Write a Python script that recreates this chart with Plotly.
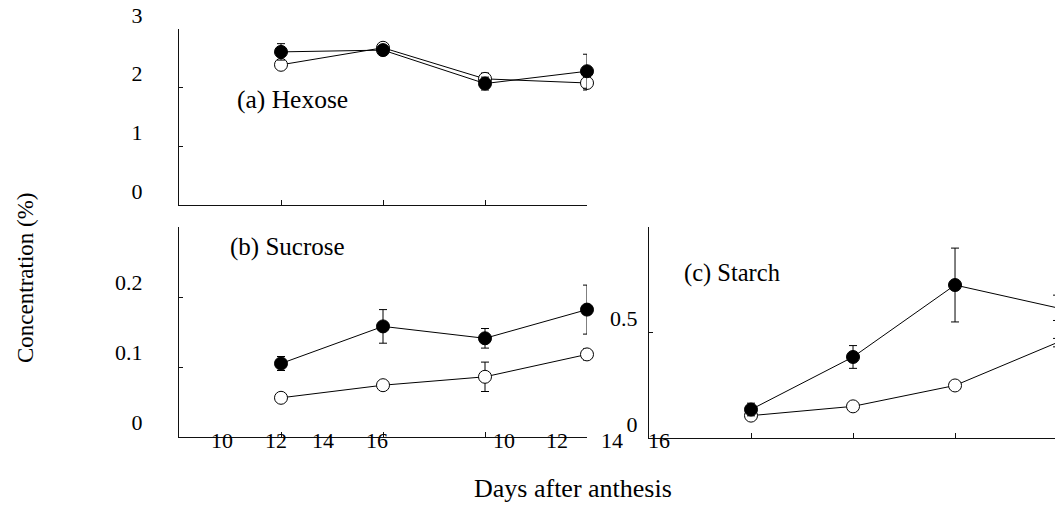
import plotly.graph_objects as go

W, H = 1055, 506

# ---- data ----
days = [10, 12, 14, 16]

hexose_filled = [2.61, 2.64, 2.07, 2.28]
hexose_filled_err = [0.14, 0.05, 0.11, 0.29]
hexose_open = [2.39, 2.68, 2.15, 2.08]
hexose_open_err = [0.03, 0.04, 0.10, 0.12]

sucrose_filled = [0.105, 0.158, 0.141, 0.182]
sucrose_filled_err = [0.010, 0.024, 0.014, 0.035]
sucrose_open = [0.056, 0.074, 0.086, 0.118]
sucrose_open_err = [0.004, 0.004, 0.021, 0.008]

starch_filled = [0.135, 0.384, 0.725, 0.617]
starch_filled_err = [0.030, 0.054, 0.175, 0.060]
starch_open = [0.106, 0.150, 0.249, 0.452]
starch_open_err = [0.010, 0.020, 0.010, 0.020]

hex_ticks = [0, 1, 2, 3]
hex_ticktext = ["0", "1", "2", "3"]
suc_ticks = [0, 0.1, 0.2, 0.3]
suc_ticktext = ["0", "0.1", "0.2", ""]
sta_ticks = [0, 0.5, 1.0]
sta_ticktext = ["0", "0.5", ""]

bottom_labels = ["10", "12", "14", "16", "10", "12", "14", "16"]
bottom_label_px = [222, 276, 323, 377, 504, 557, 612, 659]

FONT = "Liberation Serif, Times New Roman, serif"


def px(x):
    return x / W


def py(y):
    return 1 - y / H


fig = go.Figure()


def add_pair(xa, ya, y_open, e_open, y_fill, e_fill):
    fig.add_trace(go.Scatter(
        x=days, y=y_open, xaxis=xa, yaxis=ya, mode="lines+markers",
        line=dict(color="black", width=1),
        marker=dict(symbol="circle", size=13, color="white",
                    line=dict(color="black", width=1)),
        error_y=dict(type="data", array=e_open, color="black", thickness=1, width=4),
        cliponaxis=False, showlegend=False))
    fig.add_trace(go.Scatter(
        x=days, y=y_fill, xaxis=xa, yaxis=ya, mode="lines+markers",
        line=dict(color="black", width=1),
        marker=dict(symbol="circle", size=13, color="black",
                    line=dict(color="black", width=1)),
        error_y=dict(type="data", array=e_fill, color="black", thickness=1, width=4),
        cliponaxis=False, showlegend=False))


add_pair("x", "y", hexose_open, hexose_open_err, hexose_filled, hexose_filled_err)
add_pair("x2", "y2", sucrose_open, sucrose_open_err, sucrose_filled, sucrose_filled_err)
add_pair("x3", "y3", starch_open, starch_open_err, starch_filled, starch_filled_err)

xcommon = dict(showline=True, linecolor="#111", linewidth=1, ticks="inside",
               ticklen=5, tickcolor="#111", tickmode="array", tickvals=days,
               showticklabels=False, showgrid=False, zeroline=False, automargin=False)
ycommon = dict(showline=True, linecolor="#111", linewidth=1, ticks="inside",
               ticklen=4, tickcolor="#111", tickmode="array", showgrid=False,
               zeroline=False, automargin=False,
               tickfont=dict(family=FONT, size=22, color="black"))

fig.update_layout(
    width=W, height=H,
    margin=dict(l=0, r=0, t=0, b=0, autoexpand=False),
    paper_bgcolor="white", plot_bgcolor="white",
    font=dict(family=FONT, color="black"),
    xaxis=dict(domain=[px(179), px(587)], range=[8, 16], anchor="y", **xcommon),
    yaxis=dict(domain=[py(205), py(29)], range=[0, 3], anchor="x",
               tickvals=hex_ticks, ticktext=hex_ticktext,
               ticklabelshift=-14, ticklabelstandoff=31, **ycommon),
    xaxis2=dict(domain=[px(179), px(587)], range=[8, 16], anchor="y2", **xcommon),
    yaxis2=dict(domain=[py(437), py(227)], range=[0, 0.3], anchor="x2",
                tickvals=suc_ticks, ticktext=suc_ticktext,
                ticklabelshift=-15, ticklabelstandoff=31, **ycommon),
    xaxis3=dict(domain=[px(649), 1.0], range=[8, 15.96], anchor="y3", **xcommon),
    yaxis3=dict(domain=[py(438), py(227)], range=[0, 1.0], anchor="x3",
                tickvals=sta_ticks, ticktext=sta_ticktext,
                ticklabelshift=-14, ticklabelstandoff=6, **ycommon),
)

annos = [
    dict(text="(a) Hexose", x=px(292), y=py(100), size=25.5),
    dict(text="(b) Sucrose", x=px(287), y=py(247), size=25),
    dict(text="(c) Starch", x=px(732), y=py(273), size=24.5),
    dict(text="Days after anthesis", x=px(573), y=py(488), size=26),
]
for a in annos:
    fig.add_annotation(text=a["text"], x=a["x"], y=a["y"], xref="paper", yref="paper",
                       xanchor="center", yanchor="middle", showarrow=False,
                       font=dict(family=FONT, size=a["size"], color="black"))

fig.add_annotation(text="Concentration (%)", x=px(25), y=py(278), xref="paper", yref="paper",
                   xanchor="center", yanchor="middle", showarrow=False, textangle=-90,
                   font=dict(family=FONT, size=23, color="black"))

for lab, xp in zip(bottom_labels, bottom_label_px):
    fig.add_annotation(text=lab, x=px(xp), y=py(440), xref="paper", yref="paper",
                       xanchor="center", yanchor="middle", showarrow=False,
                       font=dict(family=FONT, size=22, color="black"))

fig.write_html("out.html", config={"displayModeBar": False},
               post_script="document.body.style.margin='0';document.body.style.overflow='hidden';")
